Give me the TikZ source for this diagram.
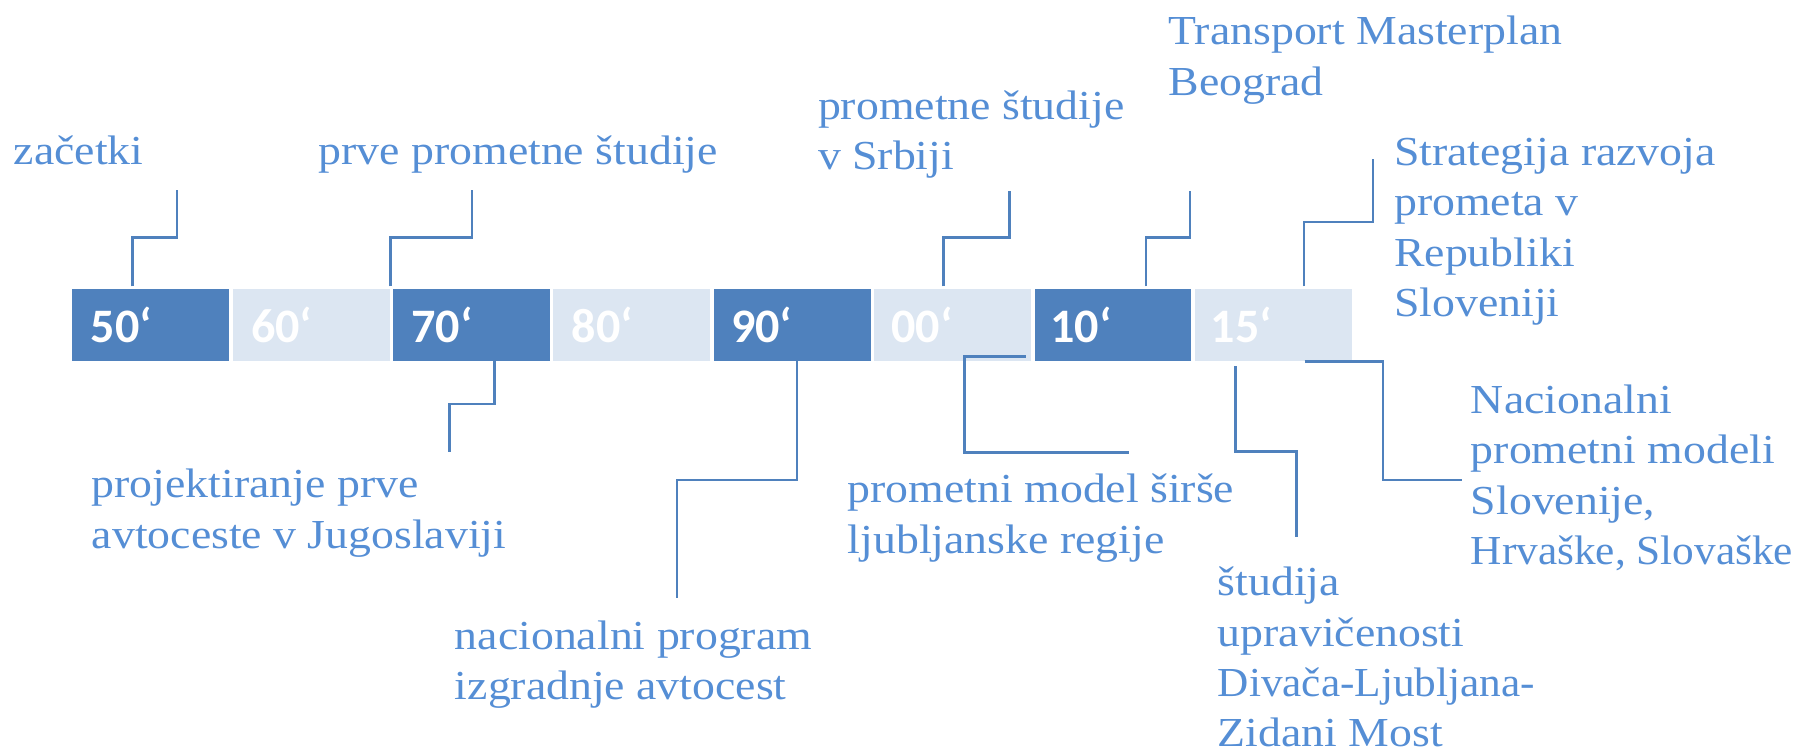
\documentclass[tikz,border=0pt]{standalone}
\usepackage{fontspec}
\usetikzlibrary{calc}
\setmainfont{Liberation Serif}[FakeStretch=1.11]
\newfontfamily\narrowfont{Liberation Serif}[FakeStretch=1.05]
\newfontfamily\yearfont{Carlito}
\definecolor{darkbl}{HTML}{4F81BD}
\definecolor{lightbl}{HTML}{DCE6F2}
\definecolor{txtbl}{HTML}{558ED5}
\tikzset{
  darkbox/.style={fill=darkbl, draw=none, minimum width=137pt, minimum height=63pt, inner sep=0pt, anchor=north west},
  lightbox/.style={fill=lightbl, draw=none, minimum width=137pt, minimum height=63pt, inner sep=0pt, anchor=north west},
  yearlbl/.style={text=white, font=\yearfont\bfseries\fontsize{42}{48}\selectfont, inner sep=0pt, anchor=base west},
  lbl/.style={text=txtbl, font=\fontsize{36}{44}\selectfont, inner sep=0pt, anchor=base west, align=left},
  conn/.style={draw=darkbl, line width=2.2pt}
}
\begin{document}
\begin{tikzpicture}[x=1pt, y=-1pt]
\useasboundingbox (0,0) rectangle (1568,658);
% boxes
\node[darkbox]  (b50) at (63,252) {};
\node[lightbox] (b60) at (203,252) {};
\node[darkbox]  (b70) at (343,252) {};
\node[lightbox] (b80) at (483,252) {};
\node[darkbox]  (b90) at (623,252) {};
\node[lightbox] (b00) at (763,252) {};
\node[darkbox]  (b10) at (903,252) {};
\node[lightbox] (b15) at (1043,252) {};
% year labels
\node[yearlbl] (y50) at ($(b50.south west)+(16,-16)$) {50‘};
\node[yearlbl] (y60) at ($(b60.south west)+(16,-16)$) {60‘};
\node[yearlbl] (y70) at ($(b70.south west)+(16,-16)$) {70‘};
\node[yearlbl] (y80) at ($(b80.south west)+(16,-16)$) {80‘};
\node[yearlbl] (y90) at ($(b90.south west)+(15,-16)$) {90‘};
\node[yearlbl] (y00) at ($(b00.south west)+(15,-16)$) {00‘};
\node[yearlbl] (y10) at ($(b10.south west)+(14,-16)$) {10‘};
\node[yearlbl] (y15) at ($(b15.south west)+(14,-16)$) {15‘};
% labels above
\node[lbl] (lzac) at (12,144) {začetki};
\node[lbl] (lprve) at (278,144) {prve prometne študije};
\node[lbl] (lsrb) at (714,148.4) {prometne študije\\v Srbiji};
\node[lbl] (lbeo) at (1020,83) {Transport Masterplan\\Beograd};
\node[lbl] (lstr) at (1217,276.5) {Strategija razvoja\\prometa v\\Republiki\\Sloveniji};
% labels below
\node[lbl] (lproj) at (80,478.6) {projektiranje prve\\avtoceste v Jugoslaviji};
\node[lbl] (lnac) at (397,611) {nacionalni program\\izgradnje avtocest};
\node[lbl] (lljub) at (740,483) {prometni model širše\\ljubljanske regije};
\node[lbl] (lstud) at (1063,652) {študija\\upravičenosti\\{\narrowfont Divača-Ljubljana-}\\Zidani Most};
\node[lbl] (lnpm) at (1284,493) {Nacionalni\\prometni modeli\\Slovenije,\\{\narrowfont Hrvaške, Slovaške}};
% connector free ends
\coordinate (tA) at (154.6,166);
\coordinate (tB) at (412,166);
\coordinate (tC) at (881.5,166.5);
\coordinate (tD) at (1039,166.5);
\coordinate (tE) at (1198.8,139);
\coordinate (tF) at (392.4,395);
\coordinate (tG) at (591,522);
\coordinate (tH) at (986,395);
\coordinate (tI) at (1131.7,468.5);
\coordinate (tJ) at (1276.5,419);
% connectors
\draw[conn] (b50.north west) ++(52.8,-2) |- (154.6,207.2) -- (tA);
\draw[conn] (b60.north east) ++(0.4,-2) |- (412,207.2) -- (tB);
\draw[conn] (b00.north west) ++(60.8,-2) |- (881.5,207.5) -- (tC);
\draw[conn] (b10.north west) ++(97.5,-2) |- (1039,207.5) -- (tD);
\draw[conn] (b15.north west) ++(95.3,-2) |- (1198.8,194) -- (tE);
\draw[conn] (b70.south west) ++(88.6,0) |- (392.4,352.7) -- (tF);
\draw[conn] (b90.south west) ++(72.8,0) |- (591,419) -- (tG);
\draw[conn] (b00.south east) ++(-5,-4.2) -| (842,395) -- (tH);
\draw[conn] (b15.south west) ++(35.8,4.5) |- (1131.7,394.3) -- (tI);
\draw[conn] (b15.south west) ++(96,0) -| (1207.3,419) -- (tJ);
\end{tikzpicture}
\end{document}
